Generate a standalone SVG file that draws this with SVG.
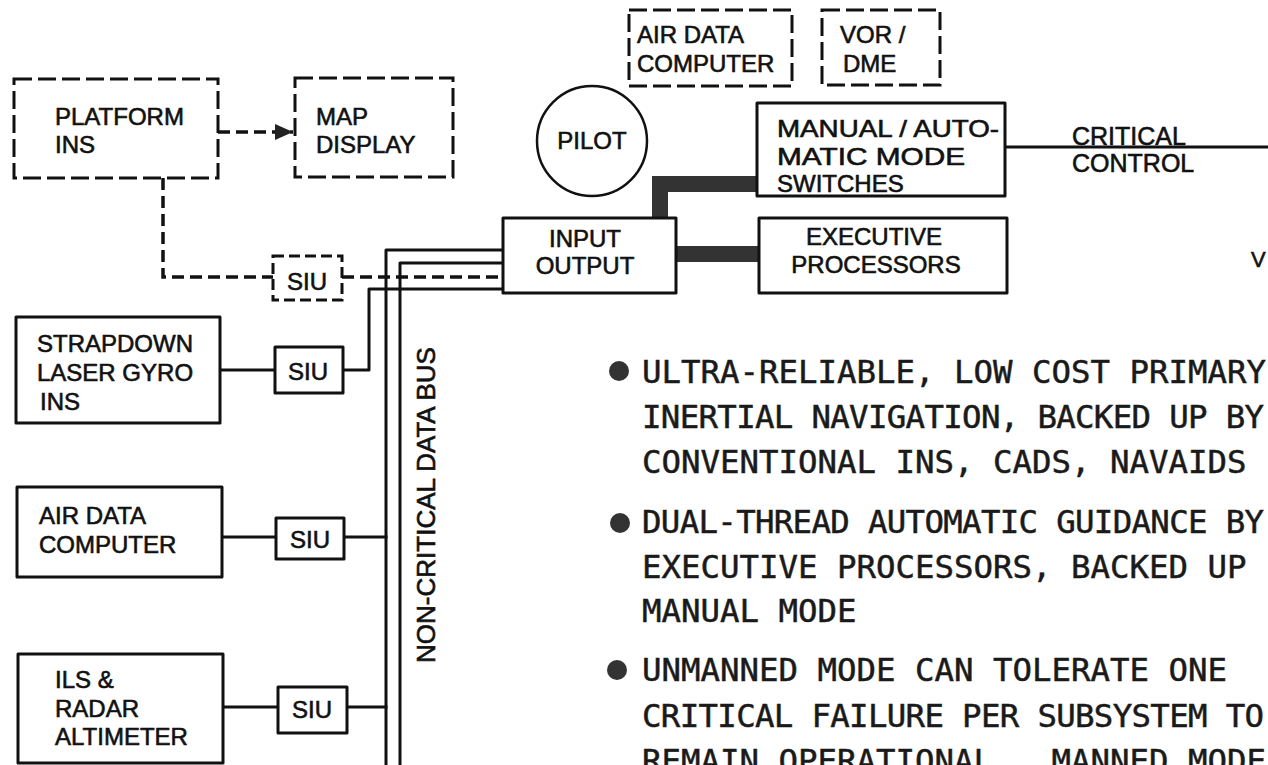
<svg xmlns="http://www.w3.org/2000/svg" width="1268" height="765" viewBox="0 0 1268 765">
<style>
.box{fill:#fff;stroke:#111;stroke-width:3;stroke-linejoin:round}
.dbox{fill:none;stroke:#111;stroke-width:3;stroke-dasharray:18 6}
.dsmall{fill:none;stroke:#111;stroke-width:3;stroke-dasharray:11 5}
.lbl{font-family:'Liberation Sans',Arial,sans-serif;font-size:24px;fill:#111;stroke:#111;stroke-width:0.6}
.mid{text-anchor:middle}
.ln{fill:none;stroke:#111;stroke-width:3;stroke-linejoin:round;stroke-linecap:square}
.dln{fill:none;stroke:#111;stroke-width:3.5;stroke-dasharray:12 6}
.thick{fill:none;stroke:#333;stroke-width:16;stroke-linejoin:miter}
.note{font-family:'DejaVu Sans Mono','Liberation Mono',monospace;font-size:32.4px;fill:#1a1a1a;stroke:#1a1a1a;stroke-width:0.5}
.bul{fill:#333}
</style>
<defs>
<marker id="arr" markerUnits="userSpaceOnUse" markerWidth="20" markerHeight="16" refX="18" refY="8" orient="auto">
<path d="M0,0 L18,8 L0,16 Z" fill="#222"/>
</marker>
</defs>

<g id="connectors">
<path class="dln" d="M218,132 H293" marker-end="url(#arr)"/>
<path class="dln" d="M163,178 V277 H273"/>
<path class="dln" d="M342,277 H503"/>
<path class="ln" d="M386,765 V250 H503"/>
<path class="ln" d="M400,765 V263 H503"/>
<path class="ln" d="M343,370 H369 V289 H503"/>
<path class="ln" d="M220,370 H275"/>
<path class="ln" d="M222,537 H276"/>
<path class="ln" d="M344,537 H386"/>
<path class="ln" d="M223,707 H278"/>
<path class="ln" d="M347,707 H386"/>
<path class="thick" d="M676,254 H759"/>
<path class="thick" d="M660,218 V184 H757"/>
<path class="ln" d="M1005,147 H1268"/>
</g>

<g id="platform-ins">
<rect class="dbox" x="14" y="79" width="204" height="99"/>
<text class="lbl" x="55" y="125">PLATFORM</text>
<text class="lbl" x="55" y="153">INS</text>
</g>
<g id="map-display">
<rect class="dbox" x="295" y="78" width="158" height="99"/>
<text class="lbl" x="316" y="125">MAP</text>
<text class="lbl" x="316" y="153">DISPLAY</text>
</g>
<g id="siu-platform">
<rect class="dsmall" x="273" y="256" width="69" height="44"/>
<text class="lbl mid" x="307" y="290">SIU</text>
</g>
<g id="air-data-top">
<rect class="dbox" x="629" y="10" width="163" height="76"/>
<text class="lbl" x="637" y="43">AIR DATA</text>
<text class="lbl" x="637" y="72">COMPUTER</text>
</g>
<g id="vor-dme">
<rect class="dbox" x="822" y="10" width="118" height="75"/>
<text class="lbl" x="840" y="43">VOR /</text>
<text class="lbl" x="843" y="72">DME</text>
</g>
<g id="pilot">
<circle cx="592" cy="141" r="55" fill="#fff" stroke="#111" stroke-width="2.5"/>
<text class="lbl mid" x="592" y="149">PILOT</text>
</g>
<g id="manual-auto">
<rect class="box" x="757" y="103" width="248" height="93"/>
<text class="lbl" x="777" y="137" textLength="222" lengthAdjust="spacingAndGlyphs">MANUAL / AUTO-</text>
<text class="lbl" x="777" y="165" textLength="188" lengthAdjust="spacingAndGlyphs">MATIC MODE</text>
<text class="lbl" x="777" y="192">SWITCHES</text>
</g>
<g id="critical-control">
<text class="lbl" x="1072" y="145" style="font-size:25px">CRITICAL</text>
<text class="lbl" x="1072" y="172" style="font-size:25px">CONTROL</text>
</g>
<g id="input-output">
<rect class="box" x="503" y="218" width="173" height="75"/>
<text class="lbl mid" x="585" y="247">INPUT</text>
<text class="lbl mid" x="585" y="274">OUTPUT</text>
</g>
<g id="executive">
<rect class="box" x="759" y="218" width="248" height="75"/>
<text class="lbl mid" x="874" y="245">EXECUTIVE</text>
<text class="lbl mid" x="876" y="273">PROCESSORS</text>
</g>
<g id="strapdown">
<rect class="box" x="16" y="317" width="204" height="106"/>
<text class="lbl" x="37" y="352">STRAPDOWN</text>
<text class="lbl" x="37" y="381">LASER GYRO</text>
<text class="lbl" x="40" y="410">INS</text>
</g>
<g id="siu-strapdown">
<rect class="box" x="275" y="347" width="68" height="46"/>
<text class="lbl mid" x="308" y="380">SIU</text>
</g>
<g id="air-data-left">
<rect class="box" x="17" y="487" width="205" height="90"/>
<text class="lbl" x="39" y="524">AIR DATA</text>
<text class="lbl" x="39" y="553">COMPUTER</text>
</g>
<g id="siu-air">
<rect class="box" x="276" y="518" width="68" height="41"/>
<text class="lbl mid" x="310" y="548">SIU</text>
</g>
<g id="ils">
<rect class="box" x="18" y="654" width="205" height="109"/>
<text class="lbl" x="55" y="688">ILS &amp;</text>
<text class="lbl" x="55" y="717">RADAR</text>
<text class="lbl" x="55" y="745">ALTIMETER</text>
</g>
<g id="siu-ils">
<rect class="box" x="278" y="687" width="69" height="46"/>
<text class="lbl mid" x="312" y="718">SIU</text>
</g>
<g id="bus-label">
<text class="lbl mid" transform="translate(435,505) rotate(-90)" style="font-size:26px">NON-CRITICAL DATA BUS</text>
</g>
<g id="edge-v">
<text class="lbl" x="1251" y="267" style="font-size:22px">V</text>
</g>

<g id="notes">
<circle class="bul" cx="619" cy="371" r="10"/>
<circle class="bul" cx="620" cy="523" r="10"/>
<circle class="bul" cx="617" cy="670" r="10"/>
<text class="note" x="642" y="383">ULTRA-RELIABLE, LOW COST PRIMARY</text>
<text class="note" x="642" y="428" textLength="622">INERTIAL NAVIGATION, BACKED UP BY</text>
<text class="note" x="642" y="473">CONVENTIONAL INS, CADS, NAVAIDS</text>
<text class="note" x="642" y="533" textLength="622">DUAL-THREAD AUTOMATIC GUIDANCE BY</text>
<text class="note" x="642" y="578">EXECUTIVE PROCESSORS, BACKED UP</text>
<text class="note" x="642" y="622">MANUAL MODE</text>
<text class="note" x="642" y="681">UNMANNED MODE CAN TOLERATE ONE</text>
<text class="note" x="642" y="727" textLength="622">CRITICAL FAILURE PER SUBSYSTEM TO</text>
<text class="note" x="642" y="772" xml:space="preserve">REMAIN OPERATIONAL.  MANNED MODE</text>
</g>
</svg>
